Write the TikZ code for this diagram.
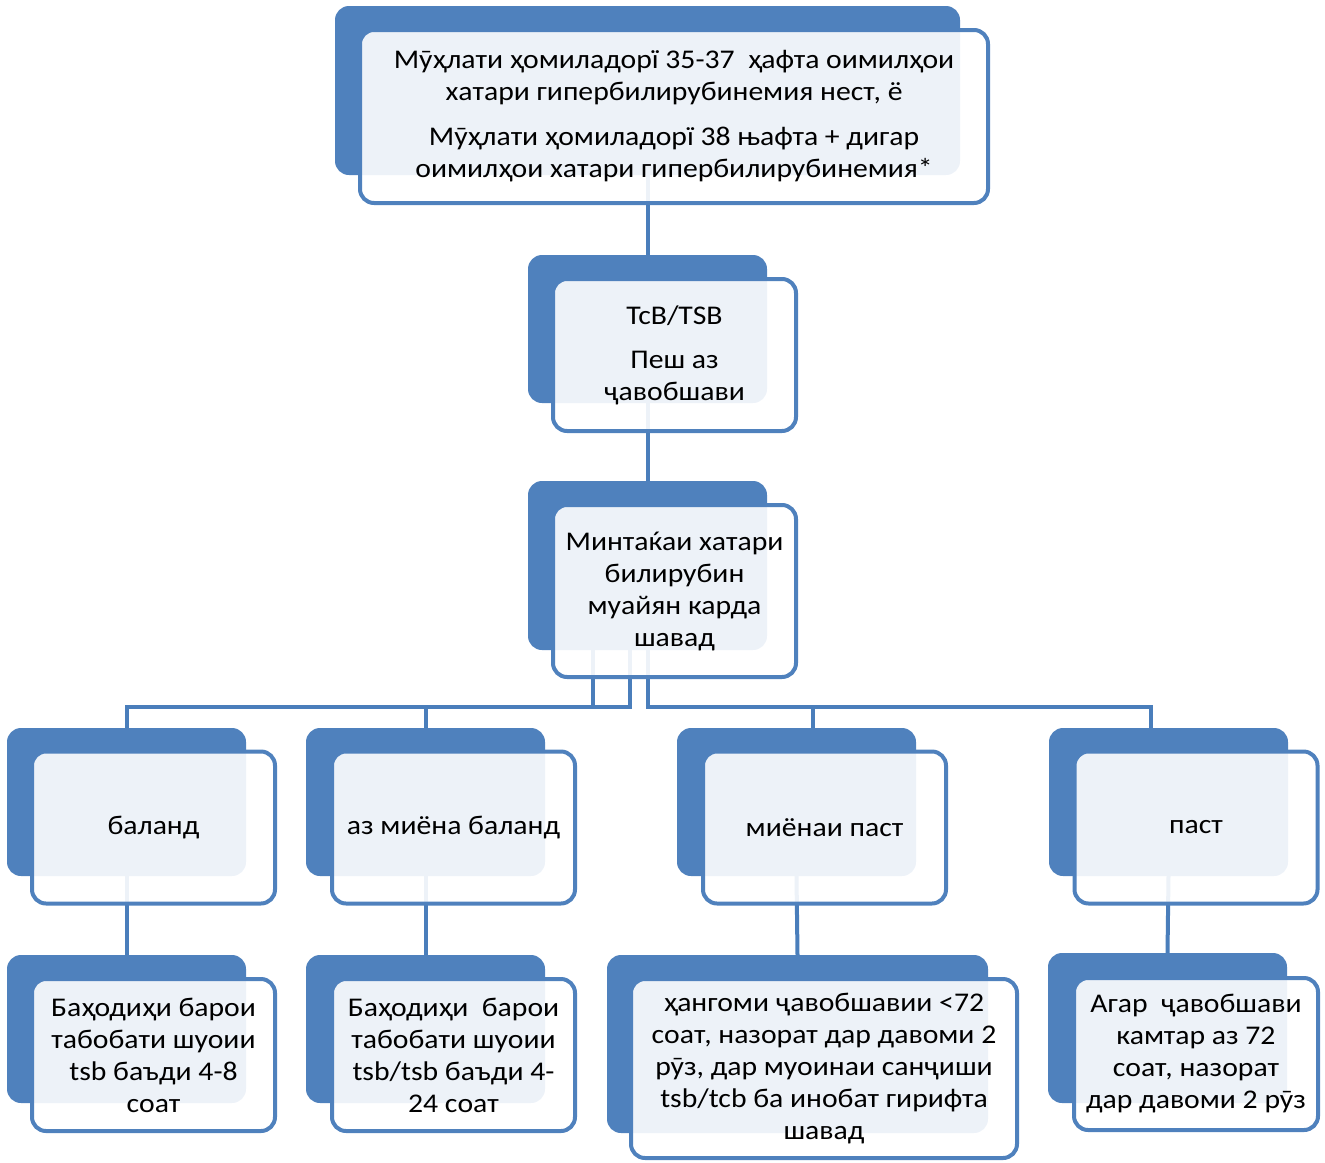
\documentclass[tikz,border=0pt]{standalone}
\usepackage{fontspec}
\setmainfont{Carlito}[FakeStretch=1.1]
\usepackage{xcolor}
\usepackage{tikz}
\usetikzlibrary{positioning,calc}
\definecolor{accblue}{HTML}{4F81BD}
\definecolor{lnkblue}{HTML}{4A7EBB}
\tikzset{
  back/.style={rectangle, rounded corners=14pt, fill=accblue, draw=none,
    minimum width=239pt, minimum height=148pt, inner sep=0pt},
  front/.style={rectangle, rounded corners=14pt, draw=accblue, line width=4pt,
    fill=white, fill opacity=0.9, text opacity=1, align=center,
    minimum width=243pt, minimum height=152pt, inner sep=0pt,
    font=\fontsize{27}{32}\selectfont},
  conn/.style={draw=lnkblue, line width=4pt},
}
\begin{document}
\begin{tikzpicture}[x=1pt,y=-1pt]
  \useasboundingbox (0,0) rectangle (1325,1162);
  \node[back, minimum width=625pt, minimum height=169pt] (bq) at (647.5,90.5) {};
  \node[back] (btsb) at (647.5,329) {};
  \node[back, minimum height=169pt] (bzone) at (647.5,565.5) {};
  \node[back] (bhigh) at (126.5,802) {};
  \node[back] (bmhigh) at (425.5,802) {};
  \node[back] (bmlow) at (796.5,802) {};
  \node[back] (blow) at (1168.5,802) {};
  \node[back] (bacthigh) at (126.5,1029) {};
  \node[back] (bactmhigh) at (425.5,1029) {};
  \node[back, minimum width=381pt, minimum height=178pt] (bactmlow) at (797.5,1044) {};
  \node[back, minimum height=150pt] (bactlow) at (1167.5,1028) {};
  \draw[conn] (bq.south) -- (btsb.north);
  \draw[conn] (btsb.south) -- (bzone.north);
  \draw[conn] ([xshift=-55pt]bzone.south) -- ++(0,57) -| (bhigh.north);
  \draw[conn] ([xshift=-18pt]bzone.south) -- ++(0,57) -| (bmhigh.north);
  \draw[conn] (bzone.south) -- ++(0,57) -| ([xshift=16pt]bmlow.north);
  \draw[conn] (bzone.south) -- ++(0,57) -| ([xshift=-18pt]blow.north);
  \draw[conn] (bhigh.south) -- (bacthigh.north);
  \draw[conn] (bmhigh.south) -- (bactmhigh.north);
  \draw[conn] (bmlow.south) -- (bactmlow.north);
  \draw[conn] (blow.south) -- (bactlow.north);
  \node[front, minimum width=628pt, minimum height=173pt] (q) at (674,116.5)
    {Мӯҳлати ҳомиладорї 35-37~ ҳафта оимилҳои\\хатари гипербилирубинемия нест, ё\\[13pt]
     Мӯҳлати ҳомиладорї 38 њафта + дигар\\оимилҳои хатари гипербилирубинемия*};
  \node[front] (tsb) at (674.5,355) {TcB/TSB\\[12pt]Пеш аз\\ҷавобшави};
  \node[front, minimum height=172pt] (zone) at (674.5,591)
    {Минтаќаи хатари\\билирубин\\муайян карда\\шавад};
  \node[front] (high) at (153.5,827.5) {баланд};
  \node[front] (mhigh) at (453.5,827.5) {аз миёна баланд};
  \node[front] (mlow) at (824.5,827.5) {миёнаи паст};
  \node[front] (low) at (1196,827.5) {паст};
  \node[front] (acthigh) at (153.5,1055) {Баҳодиҳи барои\\табобати шуоии\\tsb баъди 4-8\\соат};
  \node[front] (actmhigh) at (453.5,1055) {Баҳодиҳи~ барои\\табобати шуоии\\tsb/tsb баъди 4-\\24 соат};
  \node[front, minimum width=386pt, minimum height=179pt] (actmlow) at (824,1068.5)
    {ҳангоми ҷавобшавии <72\\соат, назорат дар давоми 2\\рӯз, дар муоинаи санҷиши\\tsb/tcb ба инобат гирифта\\шавад};
  \node[front, minimum width=244pt] (actlow) at (1196,1054)
    {Агар~ ҷавобшави\\камтар аз 72\\соат, назорат\\дар давоми 2 рӯз};
\end{tikzpicture}
\end{document}
